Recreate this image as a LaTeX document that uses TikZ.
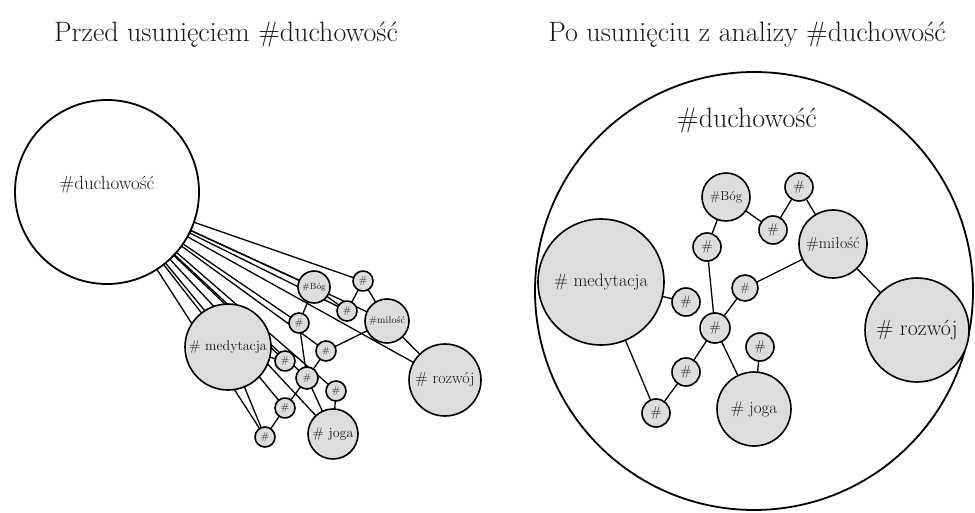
\documentclass[tikz,border=0pt]{standalone}
\usepackage{fontspec}
\definecolor{nfill}{RGB}{221,221,221}
\definecolor{ink}{RGB}{25,25,25}
\pgfdeclarelayer{bg}
\pgfdeclarelayer{edges}
\pgfsetlayers{bg,edges,main}
\newcommand{\fsz}[1]{\fontsize{#1}{#1}\selectfont}
\tikzset{
  tag/.style={circle, draw=black, line width=1.6pt, fill=nfill, inner sep=0pt, minimum size=#1, text=ink},
  hubnode/.style={circle, draw=black, line width=1.8pt, fill=white, inner sep=0pt, minimum size=#1, text=ink},
  link/.style={line width=1.3pt},
  title/.style={font=\fsz{28}, text=ink, inner sep=0pt}
}
\begin{document}
\begin{tikzpicture}[x=1pt,y=-1pt]
\useasboundingbox (0,0) rectangle (975,513);
\begin{pgfonlayer}{bg}
\fill[white] (0,0) rectangle (975,513);
\node[hubnode=438pt] (R) at (754,291) {};
\end{pgfonlayer}

% titles
\node[title] (t1) at (226,35) {Przed usunięciem \#duchowość};
\node[title] (t2) at (747,35) {Po usunięciu z analizy \#duchowość};

% ---------- left network ----------
\node[hubnode=184pt, font=\fsz{19}] (L0) at (107,192) {\raisebox{18pt}{\#duchowość}};
\node[tag=86pt, font=\fsz{14}] (Lmed) at (228,347) {\# medytacja};
\node[tag=32pt, font=\fsz{9}] (Lbog) at (314,287) {\#Bóg};
\node[tag=20pt, font=\fsz{10}] (La) at (299,323) {\#};
\node[tag=20pt, font=\fsz{10}] (Lb) at (347,311) {\#};
\node[tag=20pt, font=\fsz{10}] (Lc) at (363,281) {\#};
\node[tag=44pt, font=\fsz{10}] (Lmil) at (387,321) {\#miłość};
\node[tag=72pt, font=\fsz{16}] (Lroz) at (445,380) {\# rozwój};
\node[tag=20pt, font=\fsz{9}] (Ld) at (326,351) {\#};
\node[tag=20pt, font=\fsz{10}] (Le) at (285,361) {\#};
\node[tag=22pt, font=\fsz{10}] (Lf) at (307,378) {\#};
\node[tag=20pt, font=\fsz{10}] (Lg) at (336,391) {\#};
\node[tag=20pt, font=\fsz{10}] (Lh) at (285,408) {\#};
\node[tag=20pt, font=\fsz{10}] (Li) at (265,437) {\#};
\node[tag=50pt, font=\fsz{14}] (Ljoga) at (333,434) {\# joga};

% ---------- right network ----------
\node[font=\fsz{28}, text=ink, inner sep=0pt] (Rlab) at (747,120) {\#duchowość};
\node[tag=126pt, font=\fsz{18}] (Rmed) at (601,282) {\# medytacja};
\node[tag=48pt, font=\fsz{13}] (Rbog) at (726,197) {\#Bóg};
\node[tag=28pt, font=\fsz{14}] (Ra) at (707,247) {\#};
\node[tag=28pt, font=\fsz{14}] (Rb) at (773,230) {\#};
\node[tag=28pt, font=\fsz{14}] (Rc) at (799,187) {\#};
\node[tag=68pt, font=\fsz{16}] (Rmil) at (833,244) {\#miłość};
\node[tag=104pt, font=\fsz{22}] (Rroz) at (917,330) {\# rozwój};
\node[tag=26pt, font=\fsz{12}] (Rd) at (745,288) {\#};
\node[tag=28pt, font=\fsz{14}] (Re) at (686,302) {\#};
\node[tag=30pt, font=\fsz{14}] (Rf) at (715,328) {\#};
\node[tag=28pt, font=\fsz{14}] (Rg) at (760,347) {\#};
\node[tag=28pt, font=\fsz{14}] (Rh) at (686,372) {\#};
\node[tag=28pt, font=\fsz{14}] (Ri) at (656,413) {\#};
\node[tag=74pt, font=\fsz{17}] (Rjoga) at (754,409) {\# joga};

\begin{pgfonlayer}{edges}
% left: hub to every tag
\foreach \n in {Lmed,Lbog,La,Lb,Lc,Lmil,Lroz,Ld,Le,Lf,Lg,Lh,Li,Ljoga}
  \draw[link] (L0.center) -- (\n.center);
% shared structure on both sides
\foreach \s in {L,R}{
  \draw[link] (\s bog.center) -- (\s a.center);
  \draw[link] (\s bog.center) -- (\s b.center);
  \draw[link] (\s b.center) -- (\s c.center);
  \draw[link] (\s c.center) -- (\s mil.center);
  \draw[link] (\s mil.center) -- (\s roz.center);
  \draw[link] (\s mil.center) -- (\s d.center);
  \draw[link] (\s d.center) -- (\s f.center);
  \draw[link] (\s a.center) -- (\s f.center);
  \draw[link] (\s med.center) -- (\s e.center);
  \draw[link] (\s f.center) -- (\s h.center);
  \draw[link] (\s h.center) -- (\s i.center);
  \draw[link] (\s med.center) -- (\s i.center);
  \draw[link] (\s f.center) -- (\s joga.center);
  \draw[link] (\s joga.center) -- (\s g.center);
}
\end{pgfonlayer}
\end{tikzpicture}
\end{document}
